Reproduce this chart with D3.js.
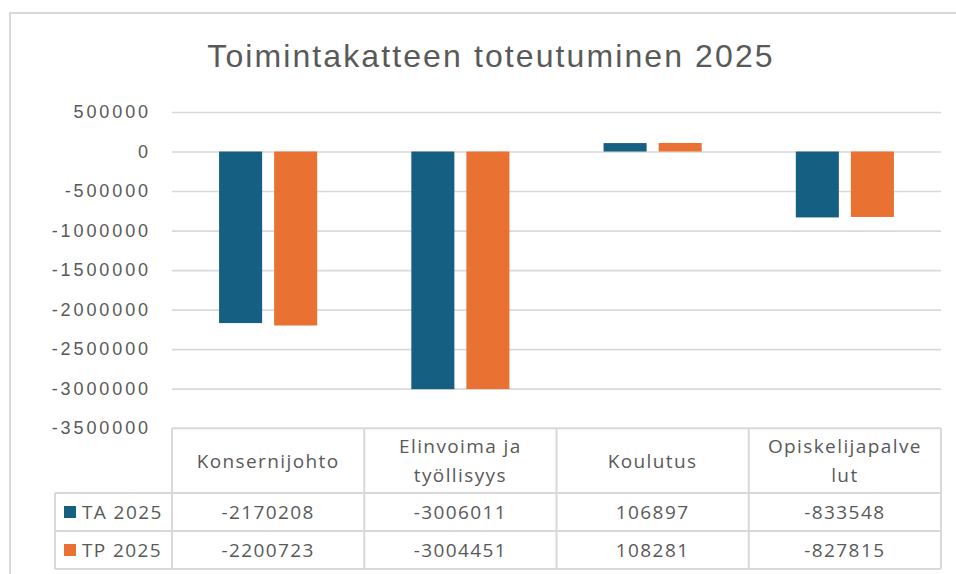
<!DOCTYPE html>
<html>
<head>
<meta charset="utf-8">
<script src="https://cdn.jsdelivr.net/npm/d3@7"></script>
<style>
  body { margin: 0; background: #fff; }
  text { fill: #595959; }
</style>
</head>
<body>
<div id="chart"></div>
<script>
/* chart data */
const categories = ["Konsernijohto", "Elinvoima ja työllisyys", "Koulutus", "Opiskelijapalvelut"];
// header cells wrap like in the original table
const categoryLines = [["Konsernijohto"], ["Elinvoima ja", "työllisyys"], ["Koulutus"], ["Opiskelijapalve", "lut"]];
const seriesNames = ["TA 2025", "TP 2025"];
const ta2025 = [-2170208, -3006011, 106897, -833548];
const tp2025 = [-2200723, -3004451, 108281, -827815];
const yTicks = [500000, 0, -500000, -1000000, -1500000, -2000000, -2500000, -3000000, -3500000];

const COLORS = ["#156082", "#E97132"];
const GRID = "#D9D9D9";

const W = 956, H = 574;
const plot = { left: 172, right: 941, top: 112, bottom: 428.2 };
const table = { left: 55, headBottom: 493, rowH: 38 };

const svg = d3.select("#chart").append("svg")
  .attr("width", W)
  .attr("height", H);

// chart frame
svg.append("rect")
  .attr("x", 10).attr("y", 13)
  .attr("width", 980).attr("height", 600)
  .attr("fill", "#fff")
  .attr("stroke", GRID)
  .attr("stroke-width", 2);

svg.append("text")
  .attr("x", 491).attr("y", 67)
  .attr("text-anchor", "middle")
  .style("font-family", "'Liberation Sans', Arial, sans-serif")
  .style("font-size", "32px")
  .style("letter-spacing", "2.1px")
  .text("Toimintakatteen toteutuminen 2025");

const x0 = d3.scaleBand()
  .domain(categories)
  .range([plot.left, plot.right])
  .padding(0);

const x1 = d3.scaleBand()
  .domain(seriesNames)
  .range([0, x0.bandwidth()])
  .paddingInner(0.218)
  .paddingOuter(0.855);

const y = d3.scaleLinear()
  .domain([-3500000, 500000])
  .range([plot.bottom, plot.top]);

// gridlines + tick labels (plain hyphen, like Excel)
const yAxis = svg.append("g")
  .attr("transform", `translate(${plot.left},0)`)
  .call(d3.axisLeft(y).tickValues(yTicks).tickSize(-(plot.right - plot.left)).tickPadding(21).tickFormat(d => String(d)));
yAxis.select(".domain").remove();
yAxis.selectAll(".tick line")
  .attr("stroke", GRID)
  .attr("stroke-width", 1.6)
  .filter(d => d === -3500000).remove();
yAxis.selectAll(".tick text")
  .attr("fill", "#595959")
  .style("font-family", "'Liberation Sans', Arial, sans-serif")
  .style("font-size", "18px")
  .style("letter-spacing", "2.9px");

// bars
const seriesValues = [ta2025, tp2025];
const barData = categories.flatMap((c, i) =>
  seriesNames.map((s, j) => ({ cat: c, series: s, value: seriesValues[j][i], color: COLORS[j] }))
);

svg.append("g").selectAll("rect")
  .data(barData)
  .enter()
  .append("rect")
  .attr("x", d => x0(d.cat) + x1(d.series))
  .attr("width", x1.bandwidth())
  .attr("y", d => y(Math.max(0, d.value)))
  .attr("height", d => Math.abs(y(d.value) - y(0)))
  .attr("fill", d => d.color);

// data table
const tbl = svg.append("g")
  .attr("stroke", GRID)
  .attr("stroke-width", 2)
  .attr("fill", "none");
const tableBottom = table.headBottom + table.rowH * seriesNames.length;

tbl.append("line")
  .attr("x1", plot.left).attr("x2", plot.right)
  .attr("y1", plot.bottom).attr("y2", plot.bottom);
[0, 1, 2].forEach(r => {
  const yy = table.headBottom + r * table.rowH;
  tbl.append("line")
    .attr("x1", table.left).attr("x2", plot.right)
    .attr("y1", yy).attr("y2", yy);
});
tbl.append("line")
  .attr("x1", table.left).attr("x2", table.left)
  .attr("y1", table.headBottom).attr("y2", tableBottom);
categories.concat([null]).forEach((c, i) => {
  const xx = c ? x0(c) : plot.right;
  tbl.append("line")
    .attr("x1", xx).attr("x2", xx)
    .attr("y1", plot.bottom).attr("y2", tableBottom);
});

const cellFont = g => g
  .style("font-family", "'Open Sans', 'Noto Sans', sans-serif")
  .style("font-size", "19px")
  .style("letter-spacing", "1.4px");

// header cells
categories.forEach((c, i) => {
  const lines = categoryLines[i];
  const cx = x0(c) + x0.bandwidth() / 2;
  const mid = (plot.bottom + table.headBottom) / 2;
  lines.forEach((ln, k) => {
    svg.append("text")
      .attr("x", cx)
      .attr("y", mid + 7 + (k - (lines.length - 1) / 2) * 29)
      .attr("text-anchor", "middle")
      .call(cellFont)
      .text(ln);
  });
});

// value rows with legend keys
seriesNames.forEach((s, j) => {
  const rowMid = table.headBottom + table.rowH * j + table.rowH / 2;
  svg.append("rect")
    .attr("x", 64).attr("y", rowMid - 6)
    .attr("width", 12).attr("height", 12)
    .attr("fill", COLORS[j]);
  svg.append("text")
    .attr("x", 82).attr("y", rowMid + 7)
    .call(cellFont)
    .text(s);
  categories.forEach((c, i) => {
    svg.append("text")
      .attr("x", x0(c) + x0.bandwidth() / 2)
      .attr("y", rowMid + 7)
      .attr("text-anchor", "middle")
      .call(cellFont)
      .text(seriesValues[j][i]);
  });
});
</script>
</body>
</html>
